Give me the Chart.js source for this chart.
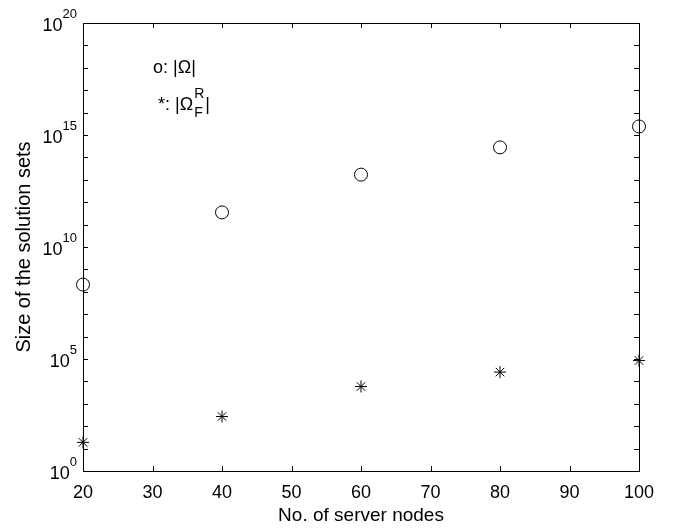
<!DOCTYPE html>
<html lang="en">
<head>
  <meta charset="UTF-8" />
  <title>Size of the solution sets</title>
  <script src="https://cdn.jsdelivr.net/npm/chart.js"></script>
  <style>
    body { margin: 0; background: #fff; }
    #wrap { width: 692px; height: 529px; }
  </style>
</head>
<body>
  <div id="wrap"><canvas id="grafico"></canvas></div>

  <script>
    const nodos = [20, 40, 60, 80, 100];
    const omega = [2.1e8, 3.5e11, 1.7e13, 2.8e14, 2.4e15];
    const omegaFR = [19, 270, 5900, 26000, 85000];
    const xTicks = [20, 30, 40, 50, 60, 70, 80, 90, 100];
    const yExponentes = [0, 5, 10, 15, 20];

    const FONT = '"Liberation Sans", Arial, sans-serif';

    // frame, inside ticks, "10^n" labels and the little legend text
    const marco = {
      id: 'marco',
      afterDraw(chart) {
        const ctx = chart.ctx;
        const a = chart.chartArea;
        const sx = chart.scales.x, sy = chart.scales.y;
        ctx.save();
        ctx.strokeStyle = '#000';
        ctx.lineWidth = 1;
        ctx.strokeRect(Math.round(a.left) + 0.5, Math.round(a.top) + 0.5,
          Math.round(a.right - a.left), Math.round(a.bottom - a.top));

        ctx.beginPath();
        xTicks.forEach(v => {
          const px = Math.round(sx.getPixelForValue(v)) + 0.5;
          ctx.moveTo(px, a.bottom); ctx.lineTo(px, a.bottom - 5);
          ctx.moveTo(px, a.top); ctx.lineTo(px, a.top + 5);
        });
        for (let k = 0; k <= 20; k++) {
          const py = Math.round(sy.getPixelForValue(Math.pow(10, k))) + 0.5;
          ctx.moveTo(a.left, py); ctx.lineTo(a.left + 5, py);
          ctx.moveTo(a.right, py); ctx.lineTo(a.right - 5, py);
        }
        ctx.stroke();

        ctx.fillStyle = '#000';
        yExponentes.forEach(e => {
          const py = sy.getPixelForValue(Math.pow(10, e));
          const sup = String(e);
          ctx.font = '13px ' + FONT;
          const wSup = ctx.measureText(sup).width;
          ctx.textAlign = 'left';
          ctx.textBaseline = 'alphabetic';
          const xSup = a.left - 6 - wSup;
          ctx.fillText(sup, xSup, py - 5);
          ctx.font = '18px ' + FONT;
          ctx.textAlign = 'right';
          ctx.fillText('10', xSup, py + 8);
        });

        // leyenda escrita a mano como en la figura original
        ctx.textAlign = 'left';
        ctx.textBaseline = 'alphabetic';
        ctx.font = '18px ' + FONT;
        ctx.fillText('o: |\u03A9|', 153, 73);
        let x = 158;
        ctx.fillText('*: |\u03A9', x, 110);
        x += ctx.measureText('*: |\u03A9').width;
        ctx.font = '14px ' + FONT;
        ctx.fillText('R', x + 1, 98);
        ctx.fillText('F', x + 1, 117);
        x += ctx.measureText('R').width + 2;
        ctx.font = '18px ' + FONT;
        ctx.fillText('|', x, 110);
        ctx.restore();
      }
    };

    new Chart(document.getElementById('grafico'), {
      type: 'scatter',
      data: {
        datasets: [
          {
            label: '|\u03A9|',
            data: nodos.map((n, i) => ({ x: n, y: omega[i] })),
            pointStyle: 'circle',
            pointRadius: 6.5,
            borderColor: '#000',
            backgroundColor: 'rgba(0,0,0,0)',
            borderWidth: 1,
            clip: false
          },
          {
            label: '|\u03A9_F^R|',
            data: nodos.map((n, i) => ({ x: n, y: omegaFR[i] })),
            pointStyle: 'star',
            pointRadius: 6,
            borderColor: '#000',
            backgroundColor: '#000',
            borderWidth: 1,
            clip: false
          }
        ]
      },
      options: {
        responsive: true,
        maintainAspectRatio: false,
        animation: false,
        layout: { padding: { left: 0, right: 53, top: 23, bottom: 0 } },
        plugins: { legend: { display: false }, tooltip: { enabled: false } },
        scales: {
          x: {
            type: 'linear',
            min: 20,
            max: 100,
            afterBuildTicks: s => { s.ticks = xTicks.map(v => ({ value: v })); },
            afterFit: s => { s.height = 58; },
            grid: { display: false },
            border: { display: false },
            ticks: { color: '#000', font: { family: FONT, size: 18 }, padding: 3 },
            title: {
              display: true,
              text: 'No. of server nodes',
              color: '#000',
              font: { family: FONT, size: 19 },
              padding: { top: 0, bottom: 2 }
            }
          },
          y: {
            type: 'logarithmic',
            min: 1,
            max: 1e20,
            afterFit: s => { s.width = 83; },
            grid: { display: false },
            border: { display: false },
            ticks: { display: false },
            title: {
              display: true,
              text: 'Size of the solution sets',
              color: '#000',
              font: { family: FONT, size: 20 },
              padding: { top: 12, bottom: 0 }
            }
          }
        }
      },
      plugins: [marco]
    });
  </script>
</body>
</html>
